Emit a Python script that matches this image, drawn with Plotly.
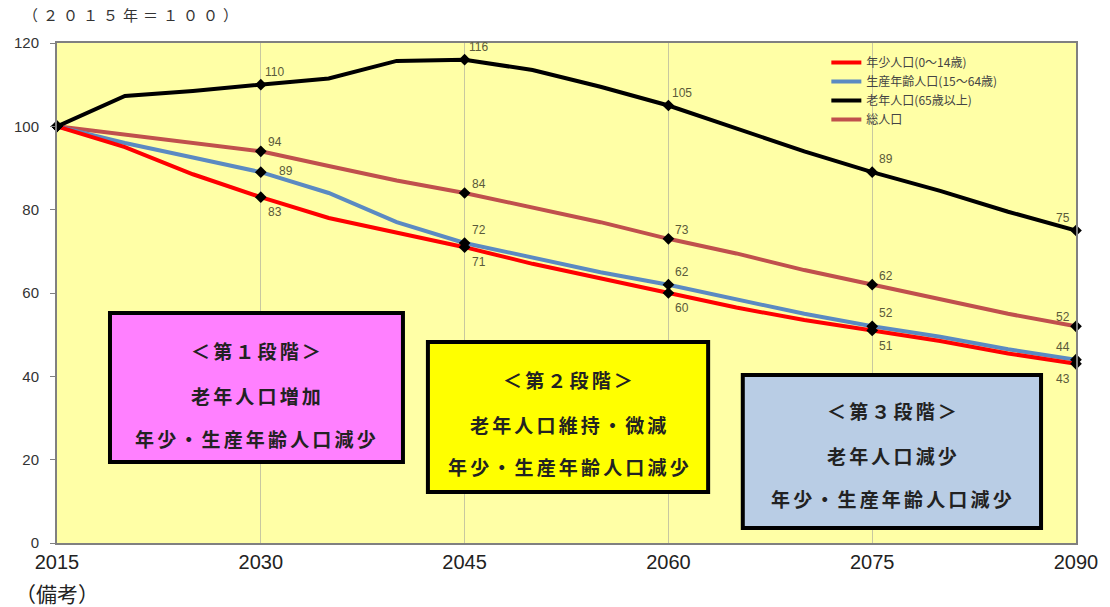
import plotly.graph_objects as go

years = [2015, 2020, 2025, 2030, 2035, 2040, 2045, 2050, 2055, 2060, 2065, 2070, 2075, 2080, 2085, 2090]
youth = [100, 95, 88.5, 83, 78, 74.5, 71, 67, 63.5, 60, 56.5, 53.5, 51, 48.5, 45.5, 43]
working = [100, 96, 92.5, 89, 84, 77, 72, 68.5, 65, 62, 58.5, 55, 52, 49.5, 46.5, 44]
elderly = [100, 107.3, 108.5, 110, 111.5, 115.7, 116, 113.5, 109.5, 105, 99.5, 94, 89, 84.5, 79.5, 75]
total = [100, 98, 96, 94, 90.5, 87, 84, 80.5, 77, 73, 69.5, 65.5, 62, 58.5, 55, 52]

key_years = [2015, 2030, 2045, 2060, 2075, 2090]
series_names = ["年少人口(0～14歳)", "生産年齢人口(15～64歳)", "老年人口(65歳以上)", "総人口"]
x_ticks = [2015, 2030, 2045, 2060, 2075, 2090]
y_ticks = [0, 20, 40, 60, 80, 100, 120]

JP = "Noto Sans CJK JP"


def spaced(s, sep):
    return sep.join(list(s))


fig = go.Figure()

series = [
    (total, series_names[3], "#C0504D", 4),
    (working, series_names[1], "#5B8AC2", 2),
    (youth, series_names[0], "#FF0000", 1),
    (elderly, series_names[2], "#000000", 3),
]
for vals, name, color, rank in series:
    fig.add_trace(go.Scatter(x=years, y=vals, mode="lines", name=name,
                             line=dict(color=color, width=4), legendrank=rank))
for vals, name, color, rank in series:
    kv = [v for yr, v in zip(years, vals) if yr in key_years]
    fig.add_trace(go.Scatter(x=key_years, y=kv, mode="markers", showlegend=False,
                             marker=dict(symbol="diamond", color="black", size=9),
                             cliponaxis=False, hoverinfo="skip"))

# data labels
label_color = "#5A5A3A"
for vals in [elderly, total, working, youth]:
    for yr, v in zip(years, vals):
        if yr not in key_years or yr == 2015:
            continue
        xs = 14 if yr != 2090 else -13
        if vals is elderly:
            ys = 13
        elif vals is total:
            ys = 9
        elif vals is working:
            ys = 13
            if yr == 2030:
                ys, xs = 1, 25
        else:
            ys = -15
        fig.add_annotation(x=yr, y=v, text=str(round(v)), showarrow=False,
                           xshift=xs, yshift=ys, font=dict(size=12, color=label_color, family="Arial"))

boxes = [
    (0.052, 0.3395, 0.162, 0.46, "#FF80FF", 0.195, [0.386, 0.296, 0.21],
     ["＜第１段階＞", "老年人口増加", "年少・生産年齢人口減少"]),
    (0.364, 0.639, 0.102, 0.402, "#FFFF00", 0.5015, [0.326, 0.238, 0.154],
     ["＜第２段階＞", "老年人口維持・微減", "年少・生産年齢人口減少"]),
    (0.673, 0.9657, 0.03, 0.336, "#B9CDE5", 0.8194, [0.266, 0.176, 0.09],
     ["＜第３段階＞", "老年人口減少", "年少・生産年齢人口減少"]),
]
for x0, x1, y0, y1, fill, cx, ys, texts in boxes:
    fig.add_shape(type="rect", xref="paper", yref="paper", x0=x0, x1=x1, y0=y0, y1=y1,
                  fillcolor=fill, line=dict(color="black", width=4), layer="above")
    for yy, t in zip(ys, texts):
        fig.add_annotation(xref="paper", yref="paper", x=cx, y=yy, xanchor="center", yanchor="middle",
                           text="<b>" + spaced(t, "\u2006") + "</b>",
                           showarrow=False, font=dict(size=19, color="#222222", family=JP))

fig.add_annotation(xref="paper", yref="paper", x=-0.035, y=1.056, xanchor="left", yanchor="middle",
                   text=spaced("（２０１５年＝１００）", "\u2004"), showarrow=False,
                   font=dict(size=15, color="#333333", family=JP))
fig.add_annotation(xref="paper", yref="paper", x=-0.043, y=-0.1, xanchor="left", yanchor="middle",
                   text="（備考）", showarrow=False,
                   font=dict(size=21, color="#222222", family=JP))

fig.update_layout(
    width=1110, height=607,
    margin=dict(l=57, r=34, t=43, b=64),
    plot_bgcolor="#FFFFA6", paper_bgcolor="white",
    showlegend=True,
    legend=dict(x=0.755, y=0.99, xanchor="left", yanchor="top", bgcolor="rgba(0,0,0,0)",
                font=dict(size=12, color="#444444", family=JP), tracegroupgap=0),
    xaxis=dict(range=[2015, 2090], tickvals=x_ticks, ticktext=[str(t) for t in x_ticks],
               showgrid=True, gridcolor="#C8C8A0", gridwidth=1, zeroline=False,
               showline=True, linecolor="#808080", linewidth=2, mirror=True,
               tickfont=dict(size=20, color="#222222", family="Arial"), ticks=""),
    yaxis=dict(range=[0, 120], tickvals=y_ticks, showgrid=False, zeroline=False,
               showline=True, linecolor="#808080", linewidth=2, mirror=True,
               ticks="outside", ticklen=5, tickcolor="#808080", ticklabelstandoff=8,
               tickfont=dict(size=15, color="#333333", family="Arial")),
)

fig.write_html("out.html")
